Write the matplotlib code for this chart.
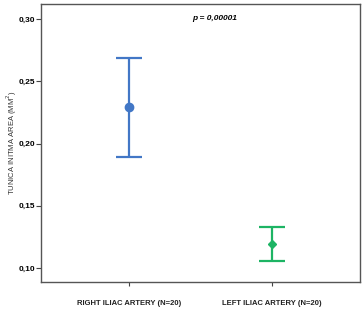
import matplotlib.pyplot as plt
from matplotlib.ticker import FuncFormatter

plt.rcParams['font.family'] = ['Liberation Sans', 'DejaVu Sans']

# Data
groups = ['RIGHT ILIAC ARTERY (N=20)', 'LEFT ILIAC ARTERY (N=20)']
means = [0.229, 0.1195]
upper = [0.2685, 0.133]
lower = [0.189, 0.1055]
colors = ['#4277c6', '#1db464']
markers = ['o', 'D']
yticks = [0.10, 0.15, 0.20, 0.25, 0.30]

fig = plt.figure(figsize=(3.64, 3.11), dpi=100)
ax = fig.add_axes([0.113, 0.093, 0.876, 0.894])

for i in range(len(groups)):
    err = [[means[i] - lower[i]], [upper[i] - means[i]]]
    ax.errorbar([i], [means[i]], yerr=err, fmt=markers[i], color=colors[i],
                ecolor=colors[i], elinewidth=1.6, capsize=9.4, capthick=1.6,
                markersize=6 if i == 0 else 4.5)

ax.set_xlim(-0.615, 1.615)
ax.set_ylim(0.0888, 0.312)
ax.set_xticks(range(len(groups)))
ax.set_xticklabels(groups, fontsize=5.5, fontweight='bold', color='#222222')
ax.set_yticks(yticks)
ax.yaxis.set_major_formatter(FuncFormatter(lambda v, p: ('%.2f' % v).replace('.', ',')))
for lab in ax.get_yticklabels():
    lab.set_fontsize(6)
    lab.set_fontweight('bold')
ax.tick_params(axis='x', length=3, width=0.8, color='#444444', pad=10)
ax.tick_params(axis='y', length=3.5, width=0.8, color='#444444', pad=1)
for s in ax.spines.values():
    s.set_color('#555555')
    s.set_linewidth(1.0)

ax.set_ylabel('TUNICA INITMA AREA (MM$^2$)', fontsize=5.5, color='#333333', va='center')
ax.yaxis.set_label_coords(-0.091, 0.5)
ax.text(0.6, 0.30, 'p = 0,00001', fontsize=6, fontweight='bold', fontstyle='italic',
        ha='center', va='center')

fig.savefig('out.png', dpi=100)
